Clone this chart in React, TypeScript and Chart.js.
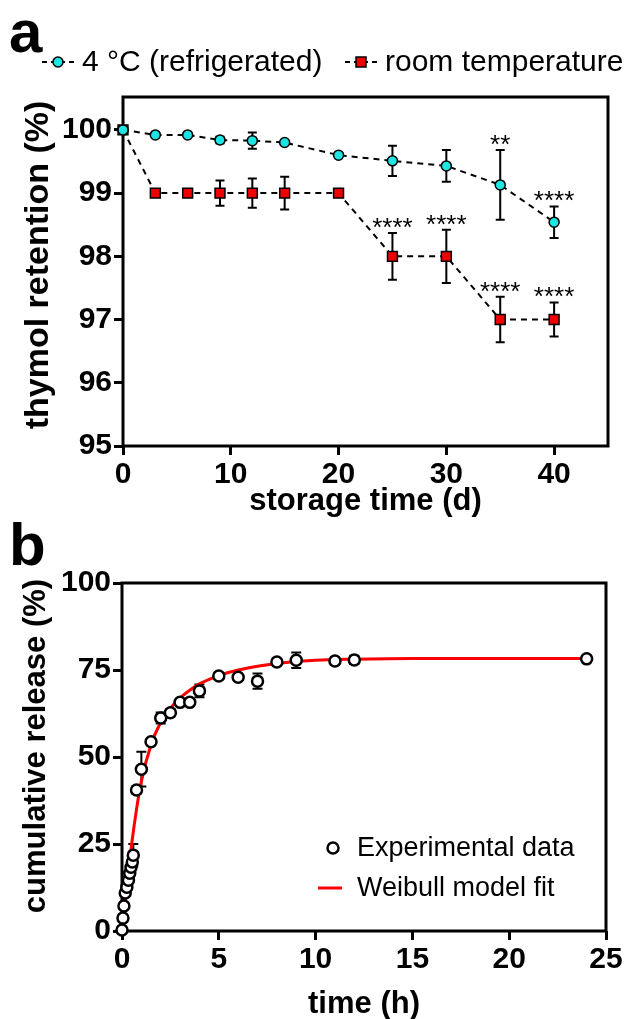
import React, { useEffect, useRef } from "react";
import { Chart, registerables } from "chart.js";
Chart.register(...registerables);

const FONT = '"Liberation Sans", Arial, sans-serif';

// ---------- Panel a: thymol retention ----------
const storageDays = [0, 3, 6, 9, 12, 15, 20, 25, 30, 35, 40];
const fridgeMean = [100, 99.92, 99.92, 99.84, 99.83, 99.8, 99.6, 99.51, 99.43, 99.13, 98.54];
const fridgeSd = [0, 0.02, 0.02, 0.05, 0.13, 0.03, 0.02, 0.24, 0.25, 0.55, 0.25];
const roomMean = [100, 99, 99, 99, 99, 99, 99, 98, 98, 97, 97];
const roomSd = [0, 0.05, 0.04, 0.2, 0.23, 0.26, 0.03, 0.37, 0.42, 0.36, 0.27];
const fridgeStars = ["", "", "", "", "", "", "", "", "", "**", "****"];
const roomStars = ["", "", "", "", "", "", "", "****", "****", "****", "****"];
const storageTicks = [0, 10, 20, 30, 40];
const retentionTicks = [95, 96, 97, 98, 99, 100];
const legendA = ["4 °C (refrigerated)", "room temperature"];

// ---------- Panel b: cumulative release ----------
const releaseHours = [0, 0.05, 0.1, 0.167, 0.25, 0.333, 0.4, 0.467, 0.533, 0.583, 0.75, 1, 1.5, 2, 2.5, 3, 3.5, 4, 5, 6, 7, 8, 9, 11, 12, 24];
const releaseMean = [0.3, 3.7, 7.2, 10.9, 12.6, 14.6, 16.6, 18.3, 19.8, 21.8, 40.5, 46.5, 54.4, 61.2, 62.7, 65.7, 65.7, 69, 73.3, 72.9, 71.8, 77.3, 77.8, 77.6, 77.9, 78.2];
const releaseSd = [0, 0.8, 0.6, 0, 0.8, 0, 0, 0, 0, 3.2, 1, 5, 0.6, 1.6, 1, 0.6, 0.4, 1.8, 0.6, 0.5, 2.2, 0.6, 2.2, 1, 1.2, 0.3];
const fitHours = [0, 0.1, 0.25, 0.5, 0.75, 1, 1.5, 2, 2.5, 3, 3.5, 4, 5, 6, 7, 8, 10, 12, 15, 20, 24];
const fitRelease = [0, 5, 13, 25, 35, 43, 53.5, 60, 64, 67, 69.2, 71, 73.4, 75, 76.1, 76.9, 77.8, 78.1, 78.3, 78.3, 78.3];
const timeTicks = [0, 5, 10, 15, 20, 25];
const releaseTicks = [0, 25, 50, 75, 100];
const legendB = ["Experimental data", "Weibull model fit"];

const boxPlugin = {
  id: "box",
  beforeDatasetsDraw(chart: any) {
    const { ctx, chartArea: a } = chart;
    ctx.save();
    ctx.strokeStyle = "#000";
    ctx.lineWidth = 3;
    ctx.strokeRect(a.left, a.top, a.right - a.left, a.bottom - a.top);
    ctx.restore();
  },
};

const errorBarPlugin = {
  id: "errbars",
  beforeDatasetsDraw(chart: any) {
    const ctx = chart.ctx;
    const ys = chart.scales.y;
    chart.data.datasets.forEach((ds: any, i: number) => {
      if (!ds.errors) return;
      const meta = chart.getDatasetMeta(i);
      const cap = ds.capHalf || 5;
      meta.data.forEach((pt: any, j: number) => {
        const e = ds.errors[j];
        if (!e) return;
        const v = ds.data[j].y;
        const yTop = ys.getPixelForValue(v + e);
        const yBot = ys.getPixelForValue(v - e);
        const x = pt.x;
        ctx.save();
        ctx.strokeStyle = "#000";
        ctx.lineWidth = 2;
        ctx.beginPath();
        ctx.moveTo(x, yTop);
        ctx.lineTo(x, yBot);
        ctx.moveTo(x - cap, yTop);
        ctx.lineTo(x + cap, yTop);
        ctx.moveTo(x - cap, yBot);
        ctx.lineTo(x + cap, yBot);
        ctx.stroke();
        ctx.restore();
      });
    });
  },
  afterDatasetsDraw(chart: any) {
    const ctx = chart.ctx;
    const ys = chart.scales.y;
    chart.data.datasets.forEach((ds: any, i: number) => {
      if (!ds.stars) return;
      const meta = chart.getDatasetMeta(i);
      meta.data.forEach((pt: any, j: number) => {
        const s = ds.stars[j];
        if (!s) return;
        const v = ds.data[j].y + (ds.errors ? ds.errors[j] : 0);
        const yTop = ys.getPixelForValue(v);
        ctx.save();
        ctx.fillStyle = "#000";
        ctx.font = `26px ${FONT}`;
        ctx.textAlign = "center";
        ctx.textBaseline = "alphabetic";
        ctx.fillText(s, pt.x, yTop + 3);
        ctx.restore();
      });
    });
  },
};

function drawMarker(ctx: CanvasRenderingContext2D, style: string, x: number, y: number, r: number, fill: string, bw: number) {
  ctx.save();
  ctx.fillStyle = fill;
  ctx.strokeStyle = "#000";
  ctx.lineWidth = bw;
  ctx.beginPath();
  if (style === "circle") ctx.arc(x, y, r, 0, Math.PI * 2);
  else ctx.rect(x - r, y - r, 2 * r, 2 * r);
  ctx.fill();
  ctx.stroke();
  ctx.restore();
}

function drawYTitle(ctx: CanvasRenderingContext2D, text: string, x: number, y: number, size: number) {
  ctx.save();
  ctx.translate(x, y);
  ctx.rotate(-Math.PI / 2);
  ctx.fillStyle = "#000";
  ctx.font = `bold ${size}px ${FONT}`;
  ctx.textAlign = "center";
  ctx.textBaseline = "middle";
  ctx.fillText(text, 0, 0);
  ctx.restore();
}

const legendAPlugin = {
  id: "legendA",
  afterDraw(chart: any) {
    const ctx = chart.ctx;
    const y = 62;
    const items = [
      { x0: 42, style: "circle", fill: "#1fe4e4", r: 5 },
      { x0: 345, style: "rect", fill: "#ee0000", r: 5 },
    ];
    items.forEach((it, k) => {
      ctx.save();
      ctx.strokeStyle = "#000";
      ctx.lineWidth = 2;
      ctx.setLineDash([5, 4]);
      ctx.beginPath();
      ctx.moveTo(it.x0, y);
      ctx.lineTo(it.x0 + 32, y);
      ctx.stroke();
      ctx.restore();
      drawMarker(ctx, it.style, it.x0 + 16, y, it.r, it.fill, 1.5);
      ctx.save();
      ctx.fillStyle = "#000";
      ctx.font = `30px ${FONT}`;
      ctx.textAlign = "left";
      ctx.textBaseline = "middle";
      ctx.fillText(legendA[k], it.x0 + 40, y + 1);
      ctx.restore();
    });
    drawYTitle(ctx, "thymol retention (%)", 39, 265, 34);
    ctx.save();
    ctx.fillStyle = "#000";
    ctx.font = `bold 60px ${FONT}`;
    ctx.textBaseline = "alphabetic";
    ctx.fillText("a", 9, 52);
    ctx.restore();
  },
};

const legendBPlugin = {
  id: "legendB",
  afterDraw(chart: any) {
    const ctx = chart.ctx;
    drawMarker(ctx, "circle", 333, 328, 5.5, "#fff", 2.5);
    ctx.save();
    ctx.strokeStyle = "#ff0000";
    ctx.lineWidth = 3;
    ctx.beginPath();
    ctx.moveTo(318, 368);
    ctx.lineTo(342, 368);
    ctx.stroke();
    ctx.fillStyle = "#000";
    ctx.font = `27px ${FONT}`;
    ctx.textAlign = "left";
    ctx.textBaseline = "middle";
    ctx.fillText(legendB[0], 357, 329);
    ctx.fillText(legendB[1], 357, 369);
    ctx.font = `bold 60px ${FONT}`;
    ctx.textBaseline = "alphabetic";
    ctx.fillText("b", 9, 45);
    ctx.restore();
    drawYTitle(ctx, "cumulative release (%)", 36, 226, 31);
  },
};

function axisCommon(ticks: number[], min: number, max: number, title: string, horizontal: boolean, sizeFix: number, titlePad: any, titleSize: number) {
  return {
    type: "linear",
    min,
    max,
    afterBuildTicks: (scale: any) => {
      scale.ticks = ticks.map((v) => ({ value: v }));
    },
    afterFit: (scale: any) => {
      if (horizontal) scale.height = sizeFix;
      else scale.width = sizeFix;
    },
    border: { display: false },
    grid: {
      display: true,
      drawOnChartArea: false,
      drawTicks: true,
      tickLength: 9,
      tickWidth: 3,
      tickColor: "#000",
    },
    ticks: {
      color: "#000",
      font: { family: FONT, size: 30, weight: "bold" },
      padding: 2,
      maxRotation: 0,
      autoSkip: false,
    },
    title: {
      display: horizontal,
      text: title,
      color: "#000",
      font: { family: FONT, size: titleSize, weight: "bold", lineHeight: 1 },
      padding: titlePad,
    },
  };
}

function buildA(canvas: HTMLCanvasElement) {
  return new Chart(canvas, {
    type: "scatter",
    data: {
      datasets: [
        {
          label: legendA[0],
          data: storageDays.map((d, i) => ({ x: d, y: fridgeMean[i] })),
          errors: fridgeSd,
          stars: fridgeStars,
          capHalf: 4.5,
          showLine: true,
          borderColor: "#000",
          borderWidth: 2,
          borderDash: [6, 5],
          pointStyle: "circle",
          pointRadius: 5,
          pointBackgroundColor: "#1fe4e4",
          pointBorderColor: "#000",
          pointBorderWidth: 1.5,
          clip: false,
          order: 0,
        } as any,
        {
          label: legendA[1],
          data: storageDays.map((d, i) => ({ x: d, y: roomMean[i] })),
          errors: roomSd,
          stars: roomStars,
          capHalf: 4.5,
          showLine: true,
          borderColor: "#000",
          borderWidth: 2,
          borderDash: [6, 5],
          pointStyle: "rect",
          pointRadius: 7,
          pointBackgroundColor: "#ee0000",
          pointBorderColor: "#000",
          pointBorderWidth: 1.5,
          clip: false,
          order: 1,
        } as any,
      ],
    },
    options: {
      animation: false,
      responsive: false,
      layout: { padding: { top: 97, right: 25, left: 0, bottom: 0 } },
      plugins: { legend: { display: false }, tooltip: { enabled: false } },
      scales: {
        x: axisCommon(storageTicks, 0, 45, "storage time (d)", true, 74, { top: 0, bottom: 3 }, 31) as any,
        y: axisCommon(retentionTicks, 95, 100.52, "thymol retention (%)", false, 123, { top: 0, bottom: 0 }, 34) as any,
      },
    },
    plugins: [boxPlugin, errorBarPlugin, legendAPlugin],
  });
}

function buildB(canvas: HTMLCanvasElement) {
  return new Chart(canvas, {
    type: "scatter",
    data: {
      datasets: [
        {
          label: legendB[0],
          data: releaseHours.map((t, i) => ({ x: t, y: releaseMean[i] })),
          errors: releaseSd,
          capHalf: 5,
          showLine: false,
          pointStyle: "circle",
          pointRadius: 5.5,
          pointBackgroundColor: "#fff",
          pointBorderColor: "#000",
          pointBorderWidth: 2.5,
          clip: false,
          order: 0,
        } as any,
        {
          label: legendB[1],
          data: fitHours.map((t, i) => ({ x: t, y: fitRelease[i] })),
          showLine: true,
          borderColor: "#ff0000",
          borderWidth: 3,
          pointRadius: 0,
          cubicInterpolationMode: "monotone",
          clip: false,
          order: 1,
        } as any,
      ],
    },
    options: {
      animation: false,
      responsive: false,
      layout: { padding: { top: 63, right: 27, left: 0, bottom: 0 } },
      plugins: { legend: { display: false }, tooltip: { enabled: false } },
      scales: {
        x: axisCommon(timeTicks, 0, 25, "time (h)", true, 88, { top: 0, bottom: -1 }, 31) as any,
        y: axisCommon(releaseTicks, 0, 100, "cumulative release (%)", false, 122, { top: 0, bottom: 0 }, 31) as any,
      },
    },
    plugins: [boxPlugin, errorBarPlugin, legendBPlugin],
  });
}

export default function App() {
  const refA = useRef<HTMLCanvasElement>(null);
  const refB = useRef<HTMLCanvasElement>(null);
  useEffect(() => {
    const a = buildA(refA.current!);
    const b = buildB(refB.current!);
    return () => {
      a.destroy();
      b.destroy();
    };
  }, []);
  return (
    <div style={{ position: "absolute", left: 0, top: 0, width: 633, height: 1019, background: "#fff" }}>
      <canvas ref={refA} width={633} height={520} style={{ position: "absolute", left: 0, top: 0 }} />
      <canvas ref={refB} width={633} height={499} style={{ position: "absolute", left: 0, top: 520 }} />
    </div>
  );
}
